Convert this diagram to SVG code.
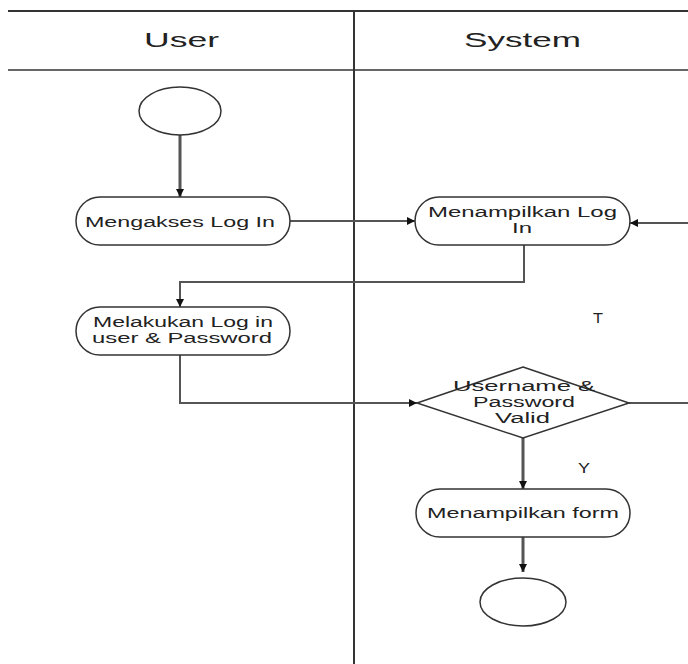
<svg xmlns="http://www.w3.org/2000/svg" width="688" height="664" viewBox="0 0 688 664">
<style>
.lane{stroke:#333;stroke-width:2;fill:none}
.node{fill:#fff;stroke:#333;stroke-width:1.5}
.conn{stroke:#555;stroke-width:2;fill:none}
.t{font-family:"Liberation Sans",Arial,sans-serif;font-size:14px;fill:#222;text-anchor:middle}
.h{font-family:"Liberation Sans",Arial,sans-serif;font-size:21px;fill:#222;text-anchor:middle}
</style>
<defs>
<marker id="arr" viewBox="0 0 10 10" refX="10" refY="5" markerWidth="8" markerHeight="8" markerUnits="userSpaceOnUse" orient="auto">
<path d="M0,0 L10,5 L0,10 z" fill="#111"/>
</marker>
</defs>
<rect width="688" height="664" fill="#fff"/>
<g id="lanes">
<line class="lane" x1="8" y1="11" x2="688" y2="11"/>
<line class="lane" x1="8" y1="70" x2="688" y2="70" style="stroke-width:1.5"/>
<line class="lane" x1="354" y1="11" x2="354" y2="664"/>
<text class="h" x="181.5" y="47" textLength="75" lengthAdjust="spacingAndGlyphs">User</text>
<text class="h" x="522.5" y="47" textLength="117" lengthAdjust="spacingAndGlyphs">System</text>
</g>
<g id="connectors">
<line class="conn" x1="180" y1="135" x2="180" y2="197" marker-end="url(#arr)" style="stroke-width:3"/>
<line class="conn" x1="290" y1="221" x2="415" y2="221" marker-end="url(#arr)"/>
<line class="conn" x1="688" y1="223" x2="630" y2="223" marker-end="url(#arr)"/>
<polyline class="conn" points="524,245 524,282 180,282 180,307" marker-end="url(#arr)"/>
<polyline class="conn" points="180,355 180,403 417,403" marker-end="url(#arr)"/>
<line class="conn" x1="629" y1="403" x2="688" y2="403"/>
<line class="conn" x1="523" y1="438" x2="523" y2="489" marker-end="url(#arr)" style="stroke-width:3"/>
<line class="conn" x1="523" y1="537" x2="523" y2="572" marker-end="url(#arr)" style="stroke-width:3"/>
<text class="t" x="598" y="323" textLength="10" lengthAdjust="spacingAndGlyphs">T</text>
<text class="t" x="584" y="473" textLength="12" lengthAdjust="spacingAndGlyphs">Y</text>
</g>
<g id="start">
<ellipse class="node" cx="180" cy="111" rx="41" ry="24"/>
</g>
<g id="mengakses">
<rect class="node" x="76" y="197" width="214" height="48" rx="24"/>
<text class="t" x="180" y="227" textLength="190" lengthAdjust="spacingAndGlyphs">Mengakses Log In</text>
</g>
<g id="menampilkan-login">
<rect class="node" x="415" y="197" width="215" height="48" rx="24"/>
<text class="t" x="522.5" y="217" textLength="189" lengthAdjust="spacingAndGlyphs">Menampilkan Log</text>
<text class="t" x="522" y="233" textLength="20" lengthAdjust="spacingAndGlyphs">In</text>
</g>
<g id="melakukan">
<rect class="node" x="76" y="307" width="214" height="48" rx="24"/>
<text class="t" x="183" y="327" textLength="180" lengthAdjust="spacingAndGlyphs">Melakukan Log in</text>
<text class="t" x="182" y="343" textLength="180" lengthAdjust="spacingAndGlyphs">user &amp; Password</text>
</g>
<g id="decision">
<polygon class="node" points="523,367 629,403 523,438 417,403"/>
<text class="t" x="524" y="391" textLength="142" lengthAdjust="spacingAndGlyphs">Username &amp;</text>
<text class="t" x="524" y="407" textLength="102" lengthAdjust="spacingAndGlyphs">Password</text>
<text class="t" x="522.5" y="423" textLength="55" lengthAdjust="spacingAndGlyphs">Valid</text>
</g>
<g id="menampilkan-form">
<rect class="node" x="416" y="489" width="214" height="48" rx="24"/>
<text class="t" x="523" y="518" textLength="192" lengthAdjust="spacingAndGlyphs">Menampilkan form</text>
</g>
<g id="end">
<ellipse class="node" cx="523" cy="602" rx="43" ry="24"/>
</g>
</svg>
